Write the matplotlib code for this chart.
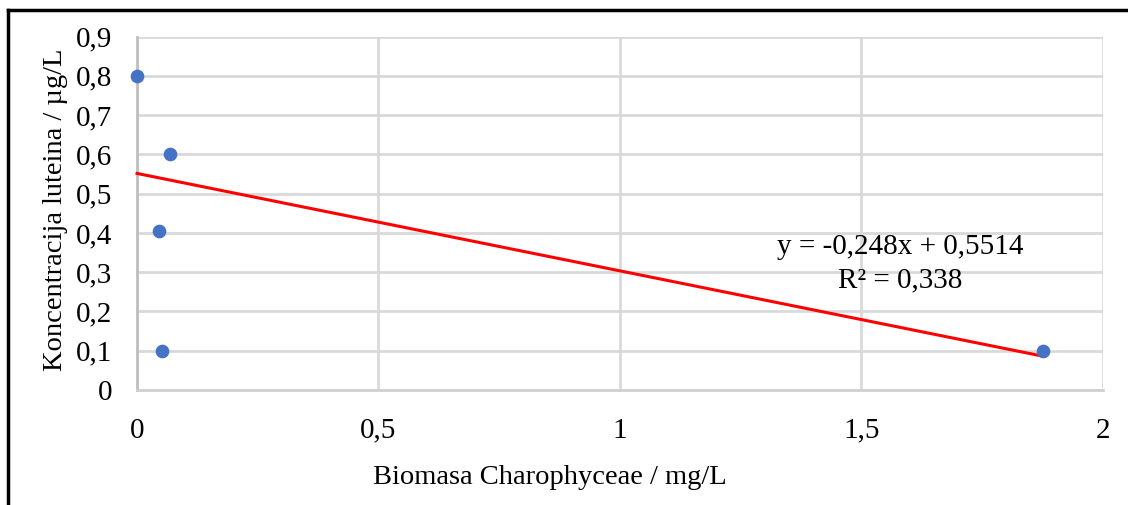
import matplotlib.pyplot as plt
from matplotlib.lines import Line2D

# Podaci očitani s grafa
biomasa = [0.0, 0.068, 0.046, 0.052, 1.876]
lutein = [0.80, 0.60, 0.405, 0.10, 0.10]

# Linearni trend (iz jednadžbe na grafu)
nagib = -0.248
odsjecak = 0.5514
r2 = 0.338

x_ticks = [0, 0.5, 1, 1.5, 2]
x_tick_labels = ["0", "0,5", "1", "1,5", "2"]
y_ticks = [0, 0.1, 0.2, 0.3, 0.4, 0.5, 0.6, 0.7, 0.8, 0.9]
y_tick_labels = ["0", "0,1", "0,2", "0,3", "0,4", "0,5", "0,6", "0,7", "0,8", "0,9"]

plt.rcParams["font.family"] = ["Liberation Serif", "DejaVu Serif"]

fig = plt.figure(figsize=(11.28, 5.05), dpi=100)
ax = fig.add_axes([0.1215, 0.2277, 0.856, 0.70])

ax.set_xlim(0, 2)
ax.set_ylim(0, 0.9)

ax.set_xticks(x_ticks)
ax.set_xticklabels(x_tick_labels)
ax.set_yticks(y_ticks)
ax.set_yticklabels(y_tick_labels)
ax.tick_params(axis="both", length=0, labelsize=21)
ax.tick_params(axis="x", pad=20)
ax.tick_params(axis="y", pad=18)

# mreža
ax.grid(True, color="#d9d9d9", linewidth=2)
ax.set_axisbelow(True)
for s in ["top", "right"]:
    ax.spines[s].set_visible(False)
ax.spines["left"].set_color("#bfbfbf")
ax.spines["left"].set_linewidth(2)
ax.spines["bottom"].set_color("#d0d0d0")
ax.spines["bottom"].set_linewidth(2)

# trend linija
x_lin = [0, max(biomasa)]
y_lin = [odsjecak + nagib * v for v in x_lin]
ax.plot(x_lin, y_lin, color="red", linewidth=2.2, zorder=3, clip_on=False)

ax.scatter(biomasa, lutein, s=78, color="#4472C4", zorder=4, clip_on=False)

ax.text(1.58, 0.365, "y = -0,248x + 0,5514", fontsize=21, ha="center", va="center")
ax.text(1.58, 0.28, "R² = 0,338", fontsize=21, ha="center", va="center")

ax.set_xlabel("Biomasa Charophyceae / mg/L", fontsize=20.5)
ax.set_ylabel("Koncentracija luteina / µg/L", fontsize=20.5)
ax.xaxis.set_label_coords(0.4275, -0.212)
ax.yaxis.set_label_coords(-0.072, 0.51)

# okvir (gornji i lijevi rub)
fig.add_artist(Line2D([8 / 1128, 1], [1 - 10 / 505, 1 - 10 / 505], color="black", linewidth=2.5, transform=fig.transFigure))
fig.add_artist(Line2D([8 / 1128, 8 / 1128], [0, 1 - 10 / 505], color="black", linewidth=2.5, transform=fig.transFigure))

plt.savefig("out.png", dpi=100)
